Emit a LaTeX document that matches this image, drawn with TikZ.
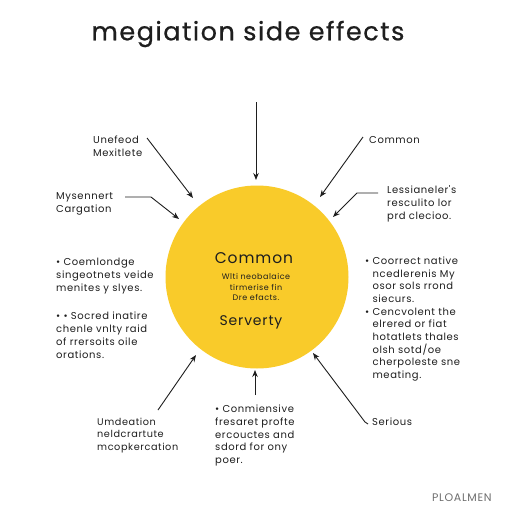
\documentclass[tikz,border=0pt]{standalone}
\usepackage{fontspec}
\setmainfont{Poppins}
\usetikzlibrary{arrows.meta}
\definecolor{sunyellow}{RGB}{249,203,42}
\definecolor{inkgrey}{RGB}{30,30,30}
\definecolor{markgrey}{RGB}{110,110,110}
\newfontfamily\lblfont[LetterSpace=6]{Poppins}
\newfontfamily\titlefont[LetterSpace=6,FakeBold=0.6]{Poppins}
\tikzset{
  lbl/.style={inner sep=0pt, align=left, text=inkgrey, font=\lblfont\fontsize{10}{13}\selectfont},
  ctr/.style={inner sep=0pt, align=center, text=inkgrey},
  conn/.style={draw=inkgrey, line width=0.9pt},
  arr/.style={conn, -{Stealth[length=7pt,width=5.5pt]}},
}
\begin{document}
\begin{tikzpicture}[x=1pt,y=-1pt]
\useasboundingbox (0,0) rectangle (512,512);
\fill[white] (0,0) rectangle (512,512);
% title
\node[ctr, font=\titlefont\fontsize{25.5}{30}\selectfont] (title) at (248,34) {megiation side effects};
% circle
\node[circle, fill=sunyellow, minimum size=183pt, inner sep=0pt] (circ) at (257,277) {};
\node[ctr, font=\lblfont\fontsize{15.5}{18}\selectfont] (c1) at (254,258) {Common};
\node[ctr, font=\lblfont\fontsize{8}{10.5}\selectfont] (c2) at (256,287) {Wlti neobalaice\\tirmerise fin\\Dre efacts.};
\node[ctr, font=\lblfont\fontsize{14}{17}\selectfont] (c3) at (251,322) {Serverty};
% labels
\node[lbl, anchor=west] (l1) at (93,146.5) {Unefeod\\Mexitlete};
\node[lbl, anchor=west] (l2) at (56,203.5) {Mysennert\\Cargation};
\node[lbl, anchor=west] (r1) at (369,140) {Common};
\node[lbl, anchor=west] (r2) at (387,204) {Lessianeler's\\resculito lor\\prd clecioo.};
\node[lbl, anchor=west] (la) at (56,276) {• Coemlondge\\singeotnets veide\\menites y slyes.};
\node[lbl, anchor=west] (lb) at (56,335) {• • Socred inatire\\chenle vnlty raid\\of rrersoits oile\\orations.};
\node[lbl, anchor=west, font=\lblfont\fontsize{10}{12.7}\selectfont] (rb) at (365,319) {• Coorrect native\\\phantom{• }ncedlerenis My\\\phantom{• }osor sols rrond\\\phantom{• }siecurs.\\• Cencvolent the\\\phantom{• }elrered or fiat\\\phantom{• }hotatlets thales\\\phantom{• }olsh sotd/oe\\\phantom{• }cherpoleste sne\\\phantom{• }meating.};
\node[lbl, anchor=west, font=\lblfont\fontsize{9.7}{12.5}\selectfont] (bl) at (97,435.5) {Umdeation\\neldcrartute\\mcopkercation};
\node[lbl, anchor=west, font=\lblfont\fontsize{10}{12.8}\selectfont] (bc) at (215,435.5) {• Conmiensive\\fresaret profte\\ercouctes and\\sdord for ony\\poer.};
\node[lbl, anchor=west] (sr) at (372,422) {Serious};
\node[inner sep=0pt, anchor=west, text=markgrey, font=\lblfont\fontsize{11}{13}\selectfont] (mark) at (432,498) {PLOALMEN};
% connector end points
\coordinate (t0) at (256,102); \coordinate (t1) at (256,180);
\coordinate (a0) at (147,138); \coordinate (a1) at (193,198);
\coordinate (b0) at (125,197); \coordinate (bk) at (151,197); \coordinate (b1) at (179,219);
\coordinate (c0) at (363,137); \coordinate (c1e) at (320,197);
\coordinate (d0) at (378,193); \coordinate (dk) at (357,193); \coordinate (d1) at (333,217);
\coordinate (e0) at (158,410); \coordinate (e1) at (196,355);
\coordinate (f0) at (255,395); \coordinate (f1) at (255,370);
\coordinate (g0) at (368,424); \coordinate (gk) at (365,422); \coordinate (g1) at (313,353);
% connectors
\draw[arr] (t0) -- (t1);
\draw[arr] (a0) -- (a1);
\draw[arr] (b0) -- (bk) -- (b1);
\draw[arr] (c0) -- (c1e);
\draw[arr] (d0) -- (dk) -- (d1);
\draw[arr] (e0) -- (e1);
\draw[arr] (f0) -- (f1);
\draw[arr] (g0) -- (gk) -- (g1);
\end{tikzpicture}
\end{document}
